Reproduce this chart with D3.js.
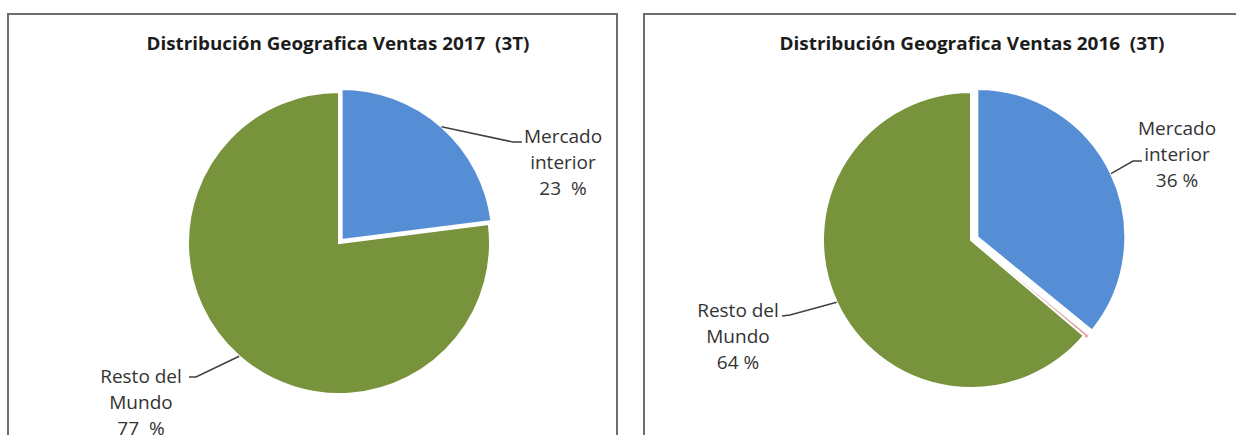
<!DOCTYPE html>
<html>
<head>
<meta charset="utf-8">
<script src="https://cdn.jsdelivr.net/npm/d3@7"></script>
<style>
  body { margin: 0; background: #fff; }
  svg { display: block; }
  text { white-space: pre; }
</style>
</head>
<body>
<div id="chart"></div>
<script>
// data
var categories = ["Mercado interior", "Otros", "Resto del Mundo"];
var values2017 = [23, 0, 77];
var values2016 = [36, 0.3, 64];
var titles = ["Distribución Geografica Ventas 2017  (3T)", "Distribución Geografica Ventas 2016  (3T)"];
var labels2017 = [["Mercado", "interior", "23  %"], null, ["Resto del", "Mundo", "77  %"]];
var labels2016 = [["Mercado", "interior", "36 %"], null, ["Resto del", "Mundo", "64 %"]];

var colors = d3.scaleOrdinal().domain(categories).range(["#558ed5", "#e6a0a0", "#77933c"]);

var svg = d3.select("#chart")
    .append("svg")
    .attr("width", 1236)
    .attr("height", 435);

// panels (each one setting)
var panels = [
    {
        x: 8, w: 609, title: titles[0], titleX: 338, titleLen: 383,
        values: values2017, labels: labels2017,
        cx: 339, cy: 243, r: 151, explode: [4, 0, 0],
        // label anchor (text centre) + leader end points
        lab: [
            { x: 563, y: 143, elbow: [513, 142], end: [522, 142] },
            null,
            { x: 141, y: 383, elbow: [196, 377], end: [189, 377] }
        ]
    },
    {
        x: 644, w: 620, title: titles[1], titleX: 972, titleLen: 385,
        values: values2016, labels: labels2016,
        cx: 971, cy: 240, r: 148, explode: [7, 3.5, 0],
        lab: [
            { x: 1177, y: 135, elbow: [1133, 161], end: [1142, 161] },
            null,
            { x: 738, y: 317, elbow: [790, 315], end: [782, 316] }
        ]
    }
];

var pie = d3.pie().sort(null).value(function (d) { return d; });

panels.forEach(function (p) {
    // frame
    svg.append("rect")
        .attr("x", p.x)
        .attr("y", 14)
        .attr("width", p.w)
        .attr("height", 500)
        .attr("fill", "none")
        .attr("stroke", "#6e6e6e")
        .attr("stroke-width", 2);

    // title
    svg.append("text")
        .attr("x", p.titleX)
        .attr("y", 50)
        .attr("text-anchor", "middle")
        .attr("textLength", p.titleLen)
        .attr("lengthAdjust", "spacingAndGlyphs")
        .style("font-family", "'Open Sans', sans-serif")
        .style("font-weight", "bold")
        .style("font-size", "18px")
        .style("fill", "#1c1c1c")
        .text(p.title);

    var arc = d3.arc().innerRadius(0).outerRadius(p.r);
    var arcs = pie(p.values);

    var g = svg.append("g")
        .attr("transform", "translate(" + p.cx + "," + p.cy + ")");

    function shift(d, i) {
        var a = (d.startAngle + d.endAngle) / 2;
        return [Math.sin(a) * p.explode[i], -Math.cos(a) * p.explode[i]];
    }

    g.selectAll("path")
        .data(arcs)
        .enter()
        .append("path")
        .attr("transform", function (d, i) {
            var s = shift(d, i);
            return "translate(" + s[0] + "," + s[1] + ")";
        })
        .attr("d", arc)
        .style("fill", function (d, i) { return colors(categories[i]); })
        .style("stroke", function (d, i) { return i === 1 ? "none" : "#fff"; })
        .style("stroke-width", 2);

    // labels with leader lines
    arcs.forEach(function (d, i) {
        var L = p.lab[i];
        if (!L || !p.labels[i]) return;
        var s = shift(d, i);
        var a = (d.startAngle + d.endAngle) / 2;
        var sx = p.cx + s[0] + Math.sin(a) * p.r;
        var sy = p.cy + s[1] - Math.cos(a) * p.r;

        svg.append("path")
            .attr("d", d3.line()([[sx, sy], L.elbow, L.end]))
            .attr("fill", "none")
            .attr("stroke", "#404040")
            .attr("stroke-width", 1.5);

        svg.append("g")
            .selectAll("text")
            .data(p.labels[i])
            .enter()
            .append("text")
            .attr("x", L.x)
            .attr("y", function (t, j) { return L.y + j * 26; })
            .attr("text-anchor", "middle")
            .style("font-family", "'Open Sans', sans-serif")
            .style("font-size", "19px")
            .style("fill", "#333")
            .text(function (t) { return t; });
    });
});
</script>
</body>
</html>
